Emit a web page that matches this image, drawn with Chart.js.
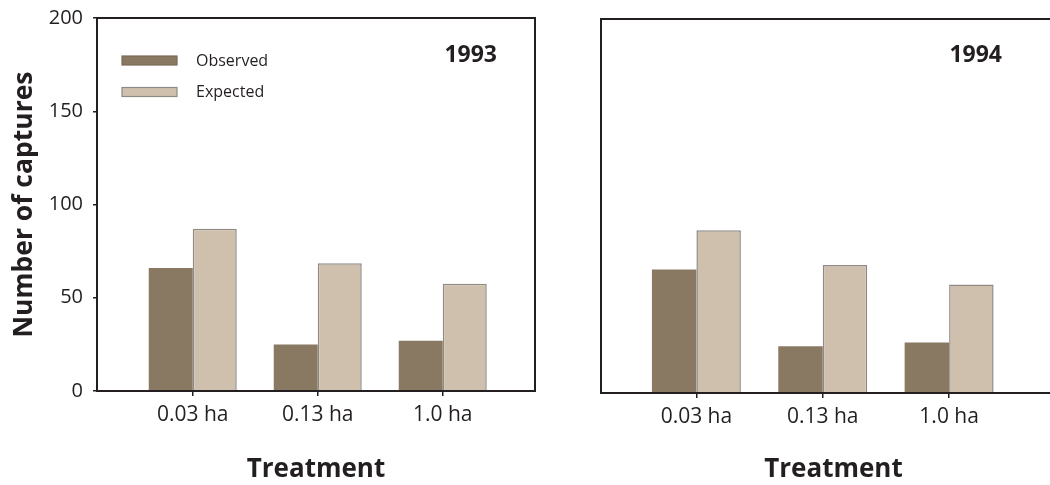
<!DOCTYPE html>
<html><head><meta charset="utf-8">
<script src="https://cdn.jsdelivr.net/npm/chart.js@4/dist/chart.umd.min.js"></script>
<style>
html,body{margin:0;padding:0;background:#fff;overflow:hidden;width:1050px;height:485px;position:relative}
#a{position:absolute;left:0;top:0;width:545px;height:485px}
#b{position:absolute;left:545px;top:0;width:530px;height:485px}
</style></head><body>
<div id="a"><canvas id="c1"></canvas></div>
<div id="b"><canvas id="c2"></canvas></div>
<script>
const categories = ['0.03 ha', '0.13 ha', '1.0 ha'];
const seriesNames = ['Observed', 'Expected'];
const observed1993 = [66, 25, 27];
const expected1993 = [87, 68.5, 57.5];
const observed1994 = [66, 25, 27];
const expected1994 = [87, 68.5, 58];
const yTicks = [0, 50, 100, 150, 200];
const years = ['1993', '1994'];

const FAM = '"Open Sans", "Noto Sans", sans-serif';
const INK = '#231f20';
const OBS_FILL = '#8a7962', OBS_LINE = '#7b6c58';
const EXP_FILL = '#cfc0ad', EXP_LINE = '#8f8a85';

const decor = {
  id: 'decor',
  afterDraw(chart, args, o) {
    const {ctx, chartArea: a} = chart;
    ctx.save();
    ctx.strokeStyle = INK; ctx.lineWidth = 2;
    ctx.strokeRect(a.left, a.top, a.right - a.left, a.bottom - a.top);
    ctx.fillStyle = INK;
    ctx.font = 'bold 23px ' + FAM;
    ctx.textAlign = 'right'; ctx.textBaseline = 'alphabetic';
    ctx.fillText(o.year, o.yearX, o.yearY);
    if (o.legend) {
      ctx.font = '16px ' + FAM; ctx.textAlign = 'left';
      chart.data.datasets.forEach((ds, i) => {
        const cy = [60.5, 92][i];
        ctx.fillStyle = ds.backgroundColor;
        ctx.fillRect(122, cy - 4.5, 55, 9);
        ctx.strokeStyle = ds.borderColor; ctx.lineWidth = 1.2;
        ctx.strokeRect(122, cy - 4.5, 55, 9);
        ctx.fillStyle = INK;
        ctx.fillText(ds.label, 196, [65.5, 97][i]);
      });
    }
    ctx.restore();
  }
};

function makeChart(id, obs, exp, cfg) {
  const toPts = arr => arr.map((v, i) => ({x: i, y: v}));
  return new Chart(document.getElementById(id), {
    type: 'bar',
    data: {
      datasets: [
        {label: seriesNames[0], data: toPts(obs), backgroundColor: OBS_FILL, borderColor: OBS_LINE, borderWidth: 0,
         categoryPercentage: 0.704, barPercentage: 1},
        {label: seriesNames[1], data: toPts(exp), backgroundColor: EXP_FILL, borderColor: EXP_LINE, borderWidth: 1.5,
         categoryPercentage: 0.704, barPercentage: 1}
      ]
    },
    options: {
      responsive: true, maintainAspectRatio: false, animation: false, devicePixelRatio: 1,
      layout: {padding: cfg.padding},
      plugins: {legend: {display: false}, tooltip: {enabled: false},
        decor: {year: cfg.year, yearX: cfg.yearX, yearY: cfg.yearY, legend: cfg.legend}},
      scales: {
        x: {
          type: 'linear', min: cfg.xmin, max: cfg.xmax, offset: false,
          afterBuildTicks: s => { s.ticks = categories.map((c, i) => ({value: i})); },
          ticks: {callback: v => categories[v], font: {family: FAM, size: 21}, color: INK, padding: 6,
                  autoSkip: false, maxRotation: 0},
          grid: {display: true, offset: false, drawOnChartArea: false, drawTicks: true, tickLength: 5, color: INK, lineWidth: 1.5},
          border: {display: false},
          title: {display: true, text: 'Treatment', font: {family: FAM, size: 26, weight: 'bold'}, color: INK, padding: 0},
          afterFit: s => { s.height = cfg.xh; s.paddingLeft = 0; s.paddingRight = 0; }
        },
        y: {
          min: 0, max: 200,
          afterBuildTicks: s => { s.ticks = yTicks.map(v => ({value: v})); },
          ticks: {display: cfg.yLabels, font: {family: FAM, size: 20}, color: INK, padding: 10},
          grid: {display: cfg.yLabels, drawOnChartArea: false, drawTicks: true, tickLength: 4, color: INK, lineWidth: 1.5},
          border: {display: false},
          title: {display: cfg.yLabels, text: 'Number of captures', font: {family: FAM, size: 26.5, weight: 'bold'},
                  color: INK, padding: {top: 9, bottom: 0}},
          afterFit: s => { s.width = cfg.yw; s.paddingTop = 0; s.paddingBottom = 0; }
        }
      }
    },
    plugins: [decor]
  });
}

makeChart('c1', observed1993, expected1993, {
  padding: {left: 0, top: 18, right: 10, bottom: 0}, xmin: -0.766, xmax: 2.738, xh: 94, yw: 97,
  yLabels: true, legend: true, year: years[0], yearX: 497, yearY: 62
});
makeChart('c2', observed1994, expected1994, {
  padding: {left: 0, top: 19, right: 9, bottom: 0}, xmin: -0.755, xmax: 2.925, xh: 92, yw: 56,
  yLabels: false, legend: false, year: years[1], yearX: 457, yearY: 62
});
</script>
</body></html>
